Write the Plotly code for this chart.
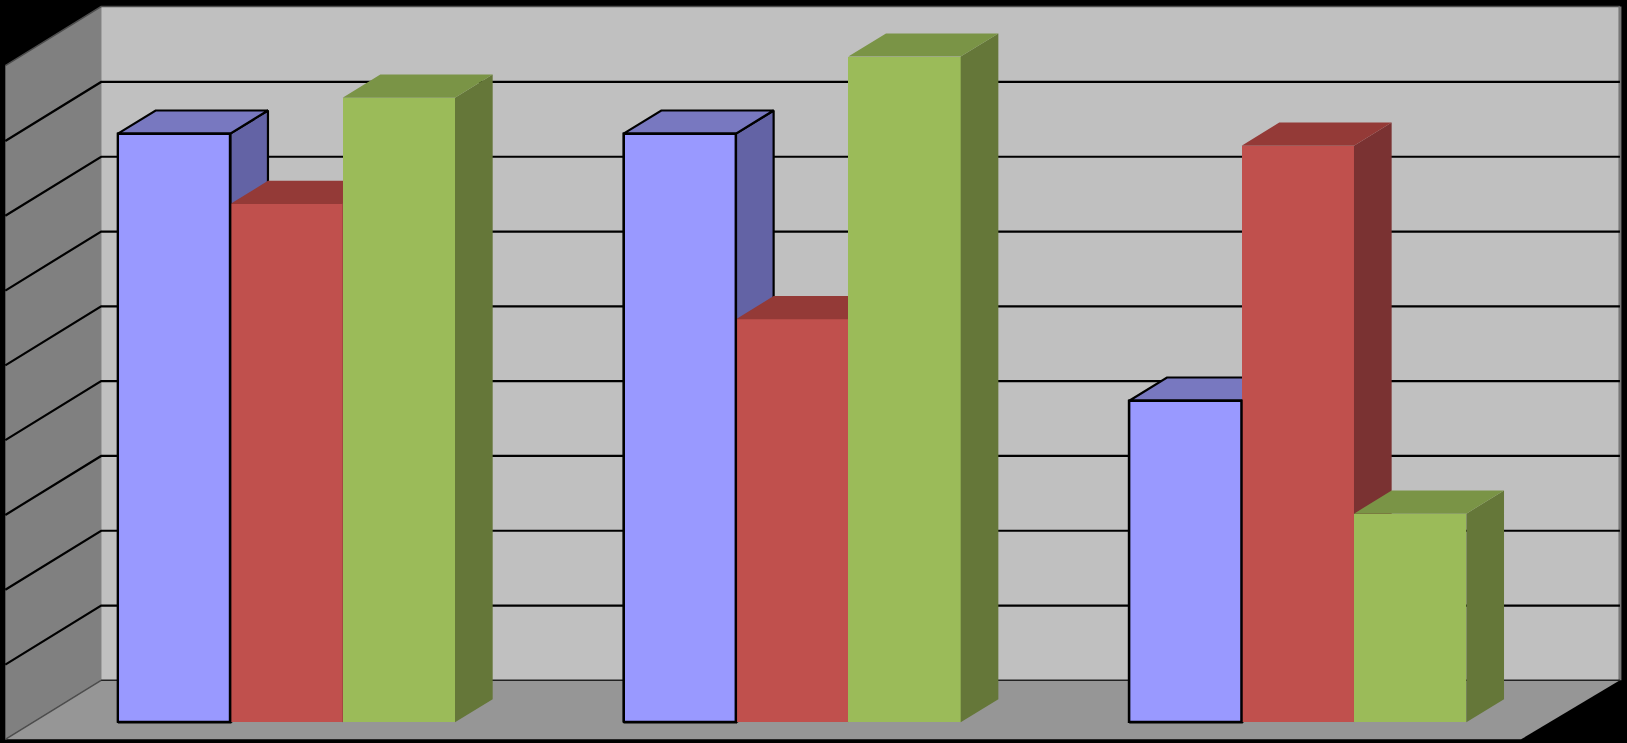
import plotly.graph_objects as go

# values, one list per series
categorias = [0, 1, 2]
serie_azul = [7.87, 7.87, 4.30]
serie_roja = [6.93, 5.39, 7.71]
serie_verde = [8.35, 8.90, 2.79]
niveles_grid = [1, 2, 3, 4, 5, 6, 7, 8]

# axis ranges so that one category / one unit land where the original has them
X_RANGE = [-0.5665, 2.651]
Y_RANGE = [-0.276, 9.657]

BAR_W = 0.2222
BAR_DX = 0.0745
BAR_DY = 0.310

# box: back wall corners and how far the floor comes forward
WALL_X0, WALL_X1 = -0.3665, 2.637
WALL_Y0, WALL_Y1 = 0.5615, 9.570
FLOOR_DX, FLOOR_DY = 0.1895, 0.789
FLOOR_RIGHT = 2.4415


def poligonos(caras):
    xs, ys = [], []
    for cara in caras:
        xs += [p[0] for p in cara] + [cara[0][0], None]
        ys += [p[1] for p in cara] + [cara[0][1], None]
    return xs, ys


def poly(caras, color, linea=None, ancho=0, xa='x', ya='y'):
    xs, ys = poligonos(caras)
    return go.Scatter(
        x=xs, y=ys, mode='lines', fill='toself', fillcolor=color,
        line=dict(color=linea or color, width=ancho),
        xaxis=xa, yaxis=ya, hoverinfo='skip', showlegend=False
    )


fig = go.Figure()

# walls and floor
left_front_x = WALL_X0 - FLOOR_DX
floor_y = WALL_Y0 - FLOOR_DY
top_left_y = WALL_Y1 - FLOOR_DY
fig.add_trace(poly([[(WALL_X0, WALL_Y0), (WALL_X1, WALL_Y0), (WALL_X1, WALL_Y1), (WALL_X0, WALL_Y1)]], '#c0c0c0'))
fig.add_trace(poly([[(left_front_x, floor_y), (WALL_X0, WALL_Y0), (WALL_X0, WALL_Y1), (left_front_x, top_left_y)]], '#808080'))
fig.add_trace(poly([[(left_front_x, floor_y), (FLOOR_RIGHT, floor_y), (WALL_X1, WALL_Y0), (WALL_X0, WALL_Y0)]], '#969696'))

# thin edges of the box
fig.add_trace(go.Scatter(
    x=[left_front_x, WALL_X0, WALL_X1, None, left_front_x, WALL_X0],
    y=[top_left_y, WALL_Y1, WALL_Y1, None, floor_y, WALL_Y0],
    mode='lines', line=dict(color='#4d4d4d', width=1.5), hoverinfo='skip', showlegend=False
))
fig.add_trace(go.Scatter(
    x=[WALL_X1, WALL_X1], y=[WALL_Y0, WALL_Y1],
    mode='lines', line=dict(color='#777777', width=3), hoverinfo='skip', showlegend=False
))

# gridlines, bent round the left wall
gx, gy = [], []
for n in niveles_grid:
    y = WALL_Y0 + n
    gx += [left_front_x, WALL_X0, WALL_X1, None]
    gy += [y - FLOOR_DY, y, y, None]
fig.add_trace(go.Scatter(
    x=gx, y=gy, mode='lines', line=dict(color='#000000', width=2.2),
    hoverinfo='skip', showlegend=False
))
fig.add_trace(go.Scatter(
    x=[WALL_X0, WALL_X1], y=[WALL_Y0, WALL_Y0], mode='lines',
    line=dict(color='#222222', width=1.5), hoverinfo='skip', showlegend=False
))

# one overlaid subplot per series, so each one paints over the one behind it
series = [
    ('Serie 1', serie_azul, -1, '#9999ff', '#7878c0', '#6363a5', '#000000', 2.2, 'x2', 'y2'),
    ('Serie 2', serie_roja, 0, '#c0504d', '#943a37', '#7a3232', None, 0, 'x3', 'y3'),
    ('Serie 3', serie_verde, 1, '#9bbb59', '#7a9446', '#657739', None, 0, 'x4', 'y4'),
]

for nombre, valores, pos, color, c_top, c_side, linea, ancho, xa, ya in series:
    xs = [c + pos * BAR_W for c in categorias]
    fig.add_trace(go.Bar(
        x=xs, y=valores, width=BAR_W, name=nombre,
        marker=dict(color=color, line=dict(color=linea or color, width=ancho)),
        xaxis=xa, yaxis=ya, showlegend=False
    ))
    tops, sides = [], []
    for x, v in zip(xs, valores):
        l, r = x - BAR_W / 2, x + BAR_W / 2
        tops.append([(l, v), (r, v), (r + BAR_DX, v + BAR_DY), (l + BAR_DX, v + BAR_DY)])
        sides.append([(r, 0), (r + BAR_DX, BAR_DY), (r + BAR_DX, v + BAR_DY), (r, v)])
    fig.add_trace(poly(sides, c_side, linea, ancho, xa, ya))
    fig.add_trace(poly(tops, c_top, linea, ancho, xa, ya))

# the blue outline sits above the red bar next to it
bx, by = [], []
for c, v in zip(categorias, serie_azul):
    l, r = c - 1.5 * BAR_W, c - 0.5 * BAR_W
    bx += [l, r, r, l, l, None]
    by += [0, 0, v, v, 0, None]
fig.add_trace(go.Scatter(
    x=bx, y=by, mode='lines', line=dict(color='#000000', width=2.2),
    xaxis='x4', yaxis='y4', hoverinfo='skip', showlegend=False
))

ejes = dict(visible=False, showgrid=False, zeroline=False, fixedrange=True)
fig.update_layout(
    width=1627, height=743,
    margin=dict(l=0, r=0, t=0, b=0),
    paper_bgcolor='#000000', plot_bgcolor='#000000',
    bargap=0,
    showlegend=False,
    xaxis=dict(range=X_RANGE, **ejes),
    yaxis=dict(range=Y_RANGE, **ejes),
    xaxis2=dict(range=X_RANGE, overlaying='x', **ejes),
    yaxis2=dict(range=Y_RANGE, overlaying='y', **ejes),
    xaxis3=dict(range=X_RANGE, overlaying='x', **ejes),
    yaxis3=dict(range=Y_RANGE, overlaying='y', **ejes),
    xaxis4=dict(range=X_RANGE, overlaying='x', **ejes),
    yaxis4=dict(range=Y_RANGE, overlaying='y', **ejes),
)

fig.write_html(
    'out.html',
    config={'displayModeBar': False},
    post_script="document.body.style.margin='0';document.body.style.background='#000';document.body.style.overflow='hidden';"
)
